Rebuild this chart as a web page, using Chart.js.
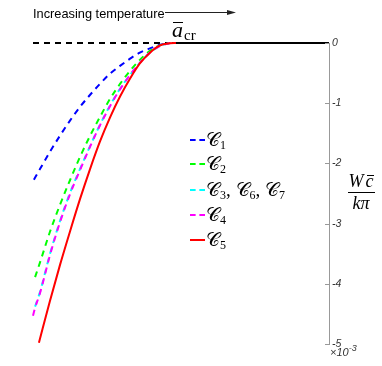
<!DOCTYPE html>
<html>
<head>
<meta charset="utf-8">
<script src="https://cdn.jsdelivr.net/npm/chart.js@4"></script>
<style>
  body { margin: 0; background: #fff; }
  #wrap { position: relative; width: 382px; height: 366px; overflow: hidden; }
  #chart { position: absolute; left: 0; top: 0; }
  .lbl { position: absolute; white-space: nowrap; color: #000; }
  .serif { font-family: "Liberation Serif", "DejaVu Serif", serif; }
  .sans { font-family: "Liberation Sans", Arial, sans-serif; }
  .leg { position: absolute; left: 190px; height: 22px; font-family: "Liberation Serif", serif; font-size: 19px; line-height: 22px; white-space: nowrap; }
  .leg .smp { position: absolute; left: 0; top: 10px; width: 15px; height: 0; border-top: 2px dashed; }
  .leg .txt { position: absolute; left: 16px; top: 0; }
  .leg sub { font-size: 12px; vertical-align: -3px; }
</style>
</head>
<body>
<div id="wrap">
  <canvas id="chart" width="382" height="366"></canvas>

  <div class="lbl sans" style="left:33px; top:6px; font-size:12.8px;">Increasing temperature</div>
  <svg style="position:absolute; left:165px; top:8px;" width="76" height="10">
    <line x1="0" y1="4.5" x2="66" y2="4.5" stroke="#222" stroke-width="1"/>
    <polygon points="62,2 71,4.5 62,7" fill="#222"/>
  </svg>

  <div class="lbl serif" style="left:172px; top:18px; font-size:22px; line-height:24px;">
    <span style="font-style:italic; position:relative;">a<span style="position:absolute; left:1px; top:5px; width:10px; border-top:1.5px solid #000;"></span></span><span style="font-size:15px; position:relative; top:3px; margin-left:1px;">cr</span>
  </div>

  <div class="leg" style="top:129px;"><div class="smp" style="border-color:#0000ff;"></div><div class="txt">𝒞<sub>1</sub></div></div>
  <div class="leg" style="top:153px;"><div class="smp" style="border-color:#00ff00;"></div><div class="txt">𝒞<sub>2</sub></div></div>
  <div class="leg" style="top:179px;"><div class="smp" style="border-color:#00ffff;"></div><div class="txt">𝒞<sub>3</sub>, 𝒞<sub>6</sub>, 𝒞<sub>7</sub></div></div>
  <div class="leg" style="top:204px;"><div class="smp" style="border-color:#ff00ff;"></div><div class="txt">𝒞<sub>4</sub></div></div>
  <div class="leg" style="top:229px;"><div class="smp" style="border-color:#ff0000; border-top-style:solid;"></div><div class="txt">𝒞<sub>5</sub></div></div>

  <div class="lbl serif" style="left:346px; top:171px; width:30px; text-align:center; font-size:18px; font-style:italic; line-height:20px;">W<span style="position:relative; margin-left:2px;">c<span style="position:absolute; left:1px; top:4px; width:7px; border-top:1.2px solid #000;"></span></span></div>
  <div style="position:absolute; left:348px; top:192px; width:27px; border-top:1px solid #000;"></div>
  <div class="lbl serif" style="left:346px; top:193px; width:30px; text-align:center; font-size:18px; font-style:italic; line-height:20px;">kπ</div>

  <div class="lbl sans" style="left:330px; top:346px; font-size:11px; font-style:italic; color:#333;">×10<span style="font-size:9px; position:relative; top:-5px;">-3</span></div>
</div>

<script>
// x: normalised temperature parameter (left edge 0, right edge 1), y in units of 1e-3
const c1X = [0.003, 0.024, 0.057, 0.091, 0.125, 0.159, 0.193, 0.226, 0.260, 0.294, 0.328, 0.361, 0.395, 0.429, 0.456];
const c1Y = [-2.27, -2.09, -1.81, -1.54, -1.29, -1.06, -0.86, -0.68, -0.51, -0.38, -0.26, -0.16, -0.09, -0.03, 0];

const c2X = [0.007, 0.024, 0.057, 0.091, 0.125, 0.159, 0.193, 0.226, 0.260, 0.294, 0.328, 0.361, 0.395, 0.429, 0.463];
const c2Y = [-3.89, -3.64, -3.14, -2.69, -2.28, -1.89, -1.54, -1.23, -0.93, -0.68, -0.46, -0.28, -0.13, -0.04, 0];

const c3X = [0.007, 0.024, 0.057, 0.091, 0.125, 0.159, 0.193, 0.226, 0.260, 0.294, 0.328, 0.361, 0.395, 0.429, 0.466];
const c3Y = [-4.38, -4.13, -3.51, -2.96, -2.49, -2.09, -1.71, -1.36, -1.04, -0.76, -0.53, -0.33, -0.16, -0.05, 0];

const c4X = [0.000, 0.007, 0.024, 0.057, 0.091, 0.125, 0.159, 0.193, 0.226, 0.260, 0.294, 0.328, 0.361, 0.395, 0.429, 0.466];
const c4Y = [-4.53, -4.40, -4.15, -3.53, -2.98, -2.51, -2.11, -1.72, -1.37, -1.05, -0.77, -0.53, -0.33, -0.16, -0.05, 0];

const c5X = [0.020, 0.057, 0.091, 0.125, 0.159, 0.193, 0.226, 0.260, 0.294, 0.328, 0.361, 0.395, 0.429, 0.463, 0.483];
const c5Y = [-4.98, -4.29, -3.69, -3.13, -2.59, -2.09, -1.64, -1.24, -0.89, -0.59, -0.34, -0.16, -0.04, -0.005, 0];

const belowX = [0, 0.456];   // dashed zero line below a_cr
const aboveX = [0.47, 1];    // solid zero line above a_cr
const yTicks = [0, -1, -2, -3, -4, -5];

function pts(xs, ys) {
    return xs.map((x, i) => ({ x: x, y: ys[i] }));
}

function curve(xs, ys, color, dashed) {
    return {
        data: pts(xs, ys),
        borderColor: color,
        borderWidth: 2,
        borderDash: dashed ? [6, 5] : [],
        pointRadius: 0,
        cubicInterpolationMode: "monotone",
        fill: false,
        clip: 4
    };
}

// draws the small inward ticks on the right axis
const innerTicks = {
    id: "innerTicks",
    afterDraw(chart) {
        const ctx = chart.ctx;
        const y = chart.scales.y;
        ctx.save();
        ctx.strokeStyle = "#999";
        ctx.lineWidth = 1;
        yTicks.forEach(t => {
            const py = Math.round(y.getPixelForValue(t)) + 0.5;
            ctx.beginPath();
            ctx.moveTo(y.left - 4, py);
            ctx.lineTo(y.left, py);
            ctx.stroke();
        });
        ctx.restore();
    }
};

new Chart(document.getElementById("chart").getContext("2d"), {
    type: "line",
    data: {
        datasets: [
            curve(c5X, c5Y, "#ff0000", false),
            curve(c4X, c4Y, "#ff00ff", true),
            curve(c3X, c3Y, "#00ffff", true),
            curve(c2X, c2Y, "#00ff00", true),
            curve(c1X, c1Y, "#0000ff", true),
            curve(aboveX, [0, 0], "#000000", false),
            curve(belowX, [0, 0], "#000000", true)
        ]
    },
    options: {
        responsive: false,
        animation: false,
        devicePixelRatio: 1,
        layout: { padding: { left: 33, right: 0, top: 43, bottom: 22 } },
        plugins: { legend: { display: false }, tooltip: { enabled: false } },
        scales: {
            x: { type: "linear", min: 0, max: 1, display: false },
            y: {
                type: "linear",
                position: "right",
                min: -5,
                max: 0,
                afterFit(scale) { scale.width = 53; },
                afterBuildTicks(scale) { scale.ticks = yTicks.map(v => ({ value: v })); },
                grid: { display: false, drawTicks: false },
                border: { display: true, color: "#999", width: 1 },
                ticks: {
                    padding: 3,
                    color: "#333",
                    font: { family: "Liberation Sans", size: 10.5, style: "italic" },
                    callback: v => String(v)
                }
            }
        }
    },
    plugins: [innerTicks]
});
</script>
</body>
</html>
